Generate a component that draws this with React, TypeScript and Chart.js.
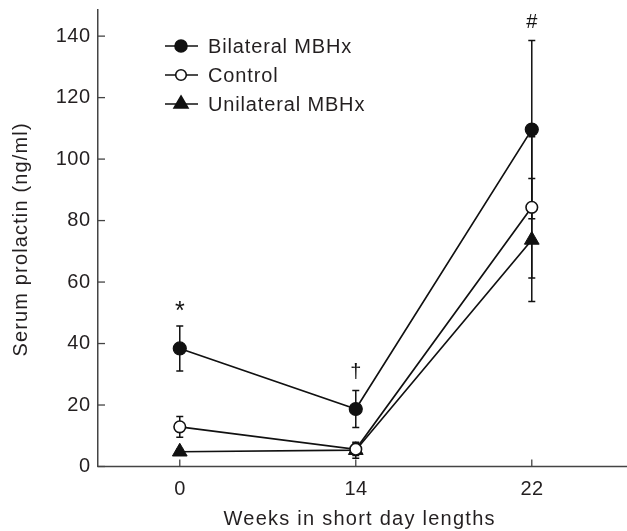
import React, { useEffect, useRef } from "react";
import { Chart, registerables } from "chart.js";
Chart.register(...registerables);

const weeks = ["0", "14", "22"];
const bilateral = [38.4, 18.7, 109.6];
const bilateralErr = [7.3, 6.0, 29.0];
const control = [12.9, 5.6, 84.3];
const controlErr = [3.4, 2.0, 23.0];
const unilateral = [4.8, 5.3, 73.7];
const unilateralErr = [0.8, 2.6, 20.0];
const significance = ["*", "\u2020", "#"];
const yTicks = [0, 20, 40, 60, 80, 100, 120, 140];
const seriesNames = ["Bilateral MBHx", "Control", "Unilateral MBHx"];

const FONT = '"Liberation Sans", Arial, Helvetica, sans-serif';
const INK = "#231f20";

const errs = [bilateralErr, controlErr, unilateralErr];

function txt(ctx: any, s: string, x: number, y: number, size: number, spacing: number, align: string) {
  ctx.save();
  ctx.font = size + "px " + FONT;
  try { ctx.letterSpacing = spacing + "px"; } catch (e) {}
  const w = ctx.measureText(s).width - spacing;
  let sx = x;
  if (align === "center") sx = x - w / 2;
  else if (align === "right") sx = x - w;
  ctx.textAlign = "left";
  ctx.textBaseline = "middle";
  ctx.fillText(s, sx, y);
  ctx.restore();
}

const customPlugin = {
  id: "custom",
  beforeDatasetsDraw(chart: any) {
    const { ctx, scales } = chart;
    const xs = scales.x, ys = scales.y;
    ctx.save();
    ctx.strokeStyle = "#111";
    ctx.lineWidth = 1.5;
    chart.data.datasets.forEach((ds: any, di: number) => {
      ds.data.forEach((p: any, i: number) => {
        const e = errs[di][i];
        const x = xs.getPixelForValue(p.x);
        const yt = ys.getPixelForValue(p.y + e);
        const yb = ys.getPixelForValue(p.y - e);
        ctx.beginPath();
        ctx.moveTo(x, yt); ctx.lineTo(x, yb);
        ctx.moveTo(x - 3.5, yt); ctx.lineTo(x + 3.5, yt);
        ctx.moveTo(x - 3.5, yb); ctx.lineTo(x + 3.5, yb);
        ctx.stroke();
      });
    });
    ctx.restore();
  },
  afterDraw(chart: any) {
    const { ctx, scales } = chart;
    const xs = scales.x, ys = scales.y;
    const left = chart.chartArea.left, bottom = chart.chartArea.bottom;
    ctx.save();
    ctx.strokeStyle = "#444";
    ctx.lineWidth = 1.5;
    ctx.beginPath(); ctx.moveTo(left - 0.75, bottom); ctx.lineTo(chart.width, bottom); ctx.stroke();
    ctx.lineWidth = 1.3;
    ctx.fillStyle = INK;
    yTicks.forEach((v) => {
      const y = ys.getPixelForValue(v);
      ctx.beginPath(); ctx.moveTo(left, y); ctx.lineTo(left + 7, y); ctx.stroke();
      txt(ctx, String(v), 90, y, 20, 0.5, "right");
    });
    weeks.forEach((w, i) => {
      const x = xs.getPixelForValue(i);
      ctx.beginPath(); ctx.moveTo(x, bottom); ctx.lineTo(x, bottom - 7); ctx.stroke();
      txt(ctx, w, x, 489, 20, 0.5, "center");
    });
    ctx.fillStyle = "#111";
    ctx.textAlign = "center";
    ctx.textBaseline = "middle";
    significance.forEach((s, i) => {
      const x = xs.getPixelForValue(i);
      const y = ys.getPixelForValue(bilateral[i] + bilateralErr[i]) - 18;
      ctx.font = (s === "*" ? "25px " : "20px ") + FONT;
      ctx.fillText(s, x, s === "*" ? y + 4 : y);
    });
    ctx.fillStyle = INK;
    txt(ctx, "Weeks in short day lengths", 359, 519, 20, 1.25, "center");
    ctx.save();
    ctx.translate(21, 240);
    ctx.rotate(-Math.PI / 2);
    txt(ctx, "Serum prolactin (ng/ml)", 0, 0, 20, 1.15, "center");
    ctx.restore();
    const rows = [46, 75, 104];
    chart.data.datasets.forEach((ds: any, di: number) => {
      const y = rows[di];
      ctx.strokeStyle = "#111";
      ctx.lineWidth = 1.6;
      ctx.beginPath(); ctx.moveTo(165, y); ctx.lineTo(198, y); ctx.stroke();
      const cx = 181;
      ctx.fillStyle = ds.pointBackgroundColor;
      ctx.beginPath();
      if (ds.pointStyle === "triangle") {
        const r = 8;
        ctx.moveTo(cx, y - r);
        ctx.lineTo(cx + r * 0.87, y + r * 0.5);
        ctx.lineTo(cx - r * 0.87, y + r * 0.5);
        ctx.closePath();
      } else {
        ctx.arc(cx, y, ds.pointRadius - 0.5, 0, Math.PI * 2);
      }
      ctx.fill();
      ctx.stroke();
      ctx.fillStyle = INK;
      txt(ctx, seriesNames[di], 208, y + 1, 20, 0.85, "left");
    });
    ctx.restore();
  },
};

export default function App() {
  const ref = useRef<HTMLCanvasElement>(null);
  useEffect(() => {
    document.body.style.margin = "0";
    const mk = (arr: number[]) => arr.map((v, i) => ({ x: i, y: v }));
    const chart = new Chart(ref.current as HTMLCanvasElement, {
      type: "line",
      data: {
        datasets: [
          {
            label: seriesNames[0], data: mk(bilateral), borderColor: "#111", borderWidth: 1.7,
            pointStyle: "circle", pointRadius: 6.5, pointBackgroundColor: "#111", pointBorderColor: "#111", pointBorderWidth: 1.2,
          },
          {
            label: seriesNames[1], data: mk(control), borderColor: "#111", borderWidth: 1.7,
            pointStyle: "circle", pointRadius: 5.8, pointBackgroundColor: "#fff", pointBorderColor: "#111", pointBorderWidth: 1.6,
          },
          {
            label: seriesNames[2], data: mk(unilateral), borderColor: "#111", borderWidth: 1.7,
            pointStyle: "triangle", pointRadius: 8.5, pointBackgroundColor: "#111", pointBorderColor: "#111", pointBorderWidth: 1,
          },
        ] as any,
      },
      options: {
        animation: false,
        responsive: false,
        layout: { padding: { top: 10, right: 0, left: 0, bottom: 0 } },
        plugins: { legend: { display: false }, tooltip: { enabled: false } },
        scales: {
          x: {
            type: "linear", min: -0.4646, max: 2.487,
            grid: { display: false },
            border: { display: false },
            afterBuildTicks: (s: any) => { s.ticks = [0, 1, 2].map((v) => ({ value: v })); },
            afterFit: (s: any) => { s.height = 531 - 466.5; },
            ticks: { display: false },
          },
          y: {
            type: "linear", min: 0, max: 148.5,
            grid: { display: false },
            border: { display: true, color: "#444", width: 1.5 },
            afterBuildTicks: (s: any) => { s.ticks = yTicks.map((v) => ({ value: v })); },
            afterFit: (s: any) => { s.width = 98; },
            ticks: { display: false },
          },
        },
      },
      plugins: [customPlugin],
    });
    return () => chart.destroy();
  }, []);
  return <canvas ref={ref} width={627} height={531} style={{ display: "block" }} />;
}
